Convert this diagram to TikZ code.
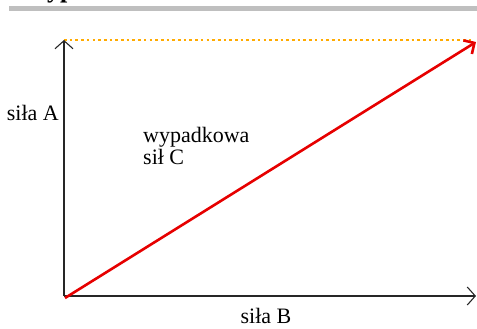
\documentclass[tikz,border=0pt]{standalone}
\usepackage{fontspec}
\setmainfont{Liberation Serif}
\usetikzlibrary{arrows.meta}
\definecolor{dotorange}{RGB}{255,170,0}
\definecolor{vecred}{RGB}{230,0,0}
\begin{document}
\begin{tikzpicture}[x=1pt,y=1pt,
  axis/.style={line width=1.1pt,draw=black!85,-{Straight Barb[length=8pt,width=18pt,line width=1.1pt]}},
  resultant/.style={line width=2.6pt,draw=vecred,-{Straight Barb[length=8pt,width=16pt,line width=2.6pt]}},
  guide/.style={line width=2.6pt,draw=dotorange,dash pattern=on 2.6pt off 3.1pt},
  lbl/.style={font=\fontsize{22}{26}\selectfont,inner sep=0pt}]
\useasboundingbox (0,0) rectangle (477,329);
\fill[black!25] (9,318) rectangle (477,323);
\node[anchor=base west,font=\bfseries\fontsize{26}{30}\selectfont,inner sep=0pt] (head) at (22,331) {Wypadkowa};
\coordinate (O) at (64,33);
\coordinate (ytop) at (64,289);
\coordinate (xend) at (476,33);
\coordinate (rs) at (65,31);
\coordinate (re) at (476,287);
\coordinate (ge) at (472,289);
\draw[guide] (ytop) -- (ge);
\draw[axis] (O) -- (ytop);
\draw[axis] (O) -- (xend);
\draw[resultant] (rs) -- (re);
\node[lbl,anchor=base east] (la) at (59,208) {siła A};
\node[lbl,anchor=base west] (lc1) at (143,186) {wypadkowa};
\node[lbl,anchor=base west] (lc2) at (143,164) {sił C};
\node[lbl,anchor=base] (lb) at (266,5) {siła B};
\end{tikzpicture}
\end{document}
